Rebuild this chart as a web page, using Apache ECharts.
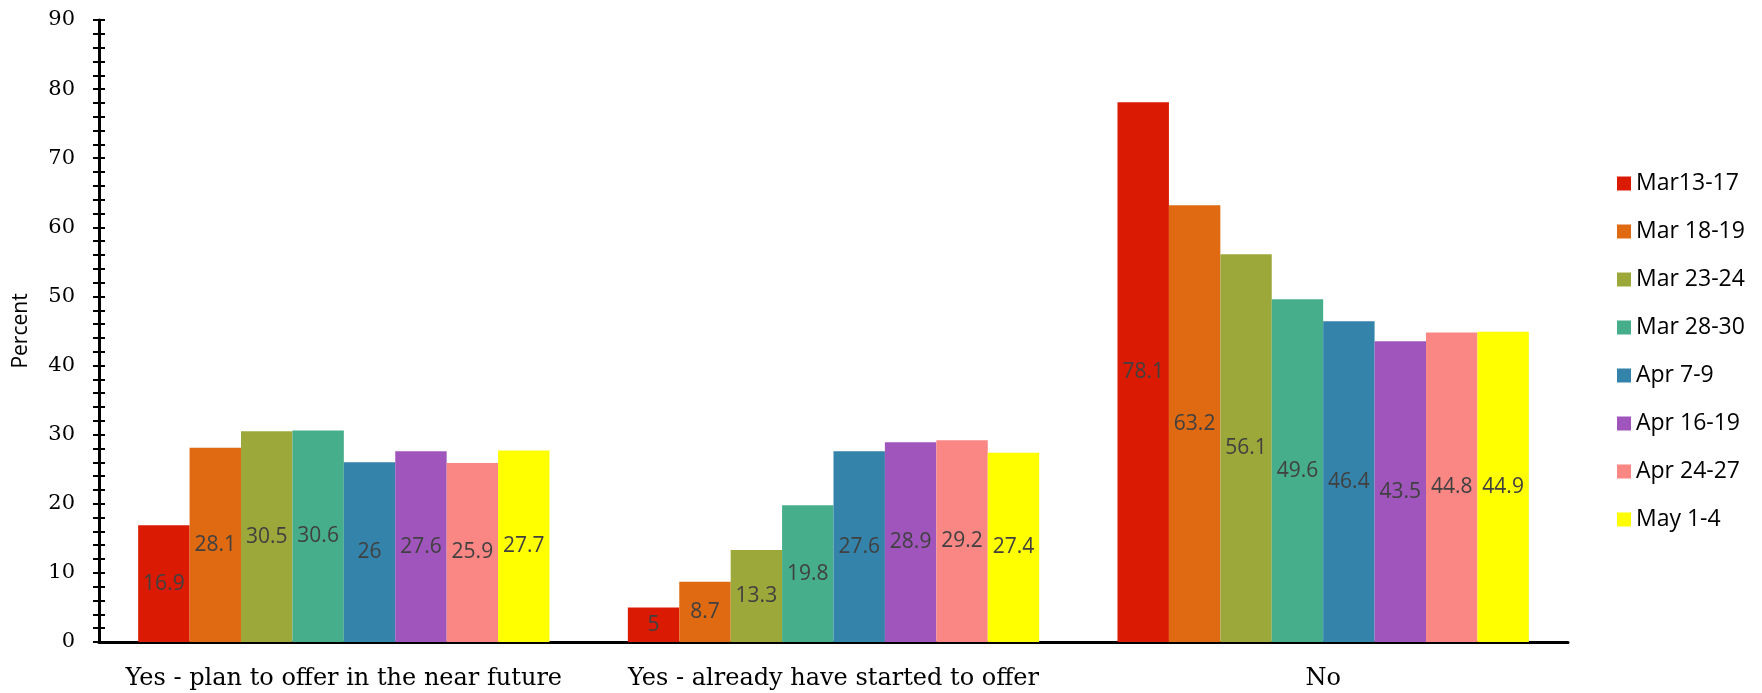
<!DOCTYPE html>
<html>
<head>
<meta charset="utf-8">
<script src="https://cdn.jsdelivr.net/npm/echarts@6/dist/echarts.min.js"></script>
<style>
html,body{margin:0;padding:0;background:#fff;}
#chart{width:1762px;height:693px;}
</style>
</head>
<body>
<div id="chart"></div>
<script>
var categories = ['Yes - plan to offer in the near future', 'Yes - already have started to offer', 'No'];
var periods = ['Mar13-17', 'Mar 18-19', 'Mar 23-24', 'Mar 28-30', 'Apr 7-9', 'Apr 16-19', 'Apr 24-27', 'May 1-4'];
var planToOffer = [16.9, 28.1, 30.5, 30.6, 26, 27.6, 25.9, 27.7];
var alreadyStarted = [5, 8.7, 13.3, 19.8, 27.6, 28.9, 29.2, 27.4];
var noValues = [78.1, 63.2, 56.1, 49.6, 46.4, 43.5, 44.8, 44.9];
var colors = ['#DA1A02', '#DF6A12', '#9DA83A', '#46AE8A', '#3383AB', '#A055BC', '#FA8784', '#FFFF00'];
var yTicks = [0, 10, 20, 30, 40, 50, 60, 70, 80, 90];

var groups = [planToOffer, alreadyStarted, noValues];
var series = periods.map(function (p, i) {
  return {
    name: p,
    type: 'bar',
    barGap: '0%',
    barCategoryGap: '16%',
    itemStyle: { color: colors[i] },
    label: {
      show: true,
      position: 'inside',
      color: '#404040',
      fontFamily: 'Open Sans',
      fontSize: 21
    },
    data: groups.map(function (g) { return g[i]; })
  };
});

var chart = echarts.init(document.getElementById('chart'));
chart.setOption({
  animation: false,
  backgroundColor: '#ffffff',
  grid: { left: 99, right: 194, top: 20, bottom: 51, containLabel: false, outerBoundsMode: 'none' },
  legend: {
    orient: 'vertical',
    left: 1612,
    top: 167,
    itemWidth: 14,
    itemHeight: 14,
    itemGap: 25,
    icon: 'rect',
    textStyle: { fontFamily: 'Open Sans', fontSize: 23, lineHeight: 23, color: '#000' },
    data: periods
  },
  xAxis: {
    type: 'category',
    data: categories,
    axisLine: { show: true, lineStyle: { color: '#000', width: 3 } },
    axisTick: { show: false },
    axisLabel: { interval: 0, color: '#000', fontFamily: 'DejaVu Serif', fontSize: 24, margin: 25 }
  },
  yAxis: [{
    type: 'value',
    min: 0, max: 90, interval: 2,
    name: 'Percent',
    nameLocation: 'middle',
    nameRotate: 90,
    nameGap: 67,
    nameTextStyle: { fontFamily: 'Open Sans', fontSize: 21, color: '#000' },
    splitLine: { show: false },
    axisLine: { show: true, lineStyle: { color: '#000', width: 3 } },
    axisTick: { show: true, length: 6, lineStyle: { color: '#000', width: 2 } },
    axisLabel: {
      color: '#000', fontFamily: 'DejaVu Serif', fontSize: 21, margin: 24,
      formatter: function (v) { return yTicks.indexOf(v) >= 0 ? String(v) : ''; }
    }
  }, {
    type: 'value',
    position: 'left',
    min: 0, max: 90, interval: 2,
    splitLine: { show: false },
    axisLine: { show: false },
    axisTick: { show: true, inside: true, length: 6, lineStyle: { color: '#000', width: 2 } },
    axisLabel: { show: false }
  }],
  series: series
});
</script>
</body>
</html>
